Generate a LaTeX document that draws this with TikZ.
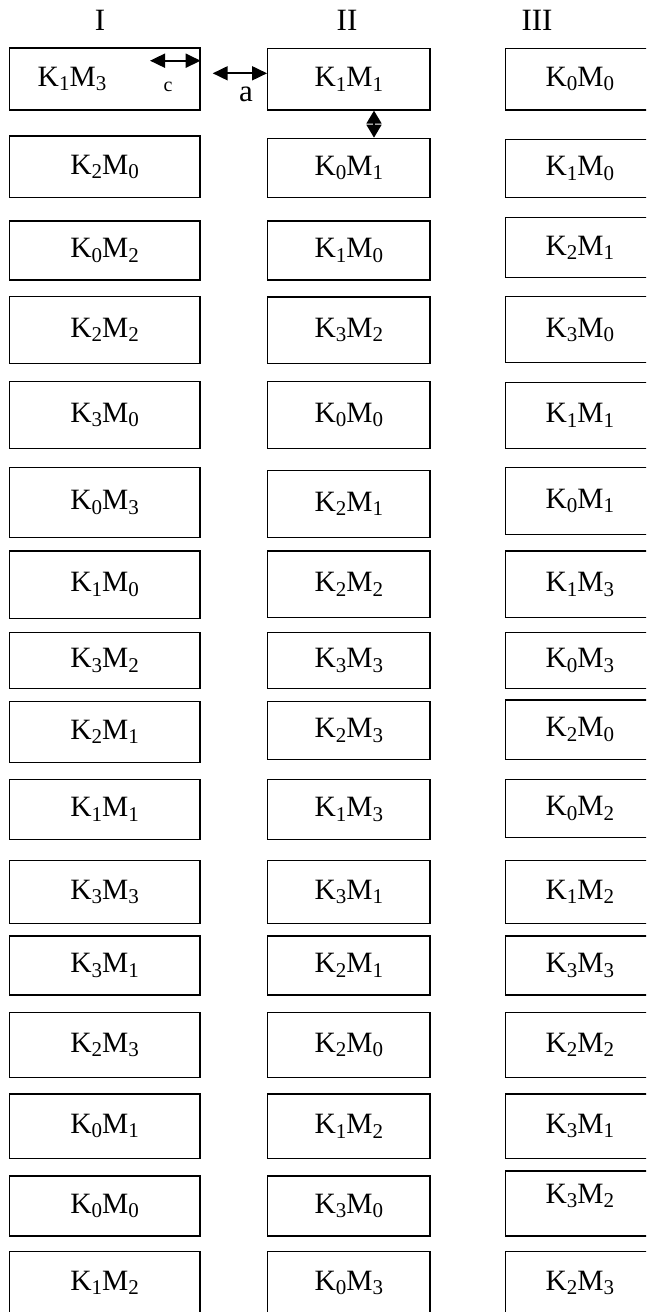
\documentclass[tikz,border=0pt]{standalone}
\usepackage{fontspec}
\setmainfont{Liberation Serif}
\usetikzlibrary{arrows.meta,calc}
\newcommand\sbs[1]{\raisebox{-4.5pt}{\fontsize{21}{21}\selectfont #1}}
\newcommand\KM[2]{K\sbs{#1}M\sbs{#2}}
\newcommand\bx[6]{\node[box, minimum width={#3pt-#2pt}, minimum height={#5pt-#4pt}] (#1) at ({(#2+#3)/2},{(#4+#5)/2}) {#6};}
\begin{document}
\begin{tikzpicture}[x=1pt,y=-1pt,
  box/.style={draw, line width=1.3pt, rectangle, inner sep=0pt, font=\fontsize{29.5}{31}\selectfont},
  txt/.style={inner sep=0pt, font=\fontsize{29.5}{31}\selectfont},
  hdr/.style={inner sep=0pt, anchor=base, font=\fontsize{31}{33}\selectfont},
  dbl/.style={line width=1.8pt, {Triangle[length=15pt,width=14pt]}-{Triangle[length=15pt,width=14pt]}},
  vdbl/.style={line width=1.8pt, {Triangle[length=13pt,width=15pt]}-{Triangle[length=13pt,width=15pt]}}]
\useasboundingbox (0,0) rectangle (646,1312);
\clip (0,0) rectangle (646,1312);
% headers
\node[hdr] (h1) at (100,30.7) {I};
\node[hdr] (h2) at (347,30.7) {II};
\node[hdr] (h3) at (537,30.7) {III};
% column I
\bx{I1}{9.3}{200}{48}{110}{}
\node[txt] (t11) at (72,79) {\KM{1}{3}};
\bx{I2}{9.3}{200}{136}{197.7}{\KM{2}{0}}
\bx{I3}{9.3}{200}{221}{280}{\KM{0}{2}}
\bx{I4}{9.3}{200}{296.7}{363.3}{\KM{2}{2}}
\bx{I5}{9.3}{200}{381.7}{448.3}{\KM{3}{0}}
\bx{I6}{9.3}{200}{467.3}{537.3}{\KM{0}{3}}
\bx{I7}{9.3}{200}{551}{618.3}{\KM{1}{0}}
\bx{I8}{9.3}{200}{632.3}{688.3}{\KM{3}{2}}
\bx{I9}{9.3}{200}{701.3}{762.3}{\KM{2}{1}}
\bx{I10}{9.3}{200}{779.3}{839.3}{\KM{1}{1}}
\bx{I11}{9.3}{200}{860.7}{923.3}{\KM{3}{3}}
\bx{I12}{9.3}{200}{936}{995}{\KM{3}{1}}
\bx{I13}{9.3}{200}{1012.7}{1077.3}{\KM{2}{3}}
\bx{I14}{9.3}{200}{1094}{1158.3}{\KM{0}{1}}
\bx{I15}{9.3}{200}{1176}{1236}{\KM{0}{0}}
\bx{I16}{9.3}{200}{1251.7}{1314}{\KM{1}{2}}
% column II
\bx{II1}{267.7}{430}{48.3}{110}{\KM{1}{1}}
\bx{II2}{267.7}{430}{138.3}{197.7}{\KM{0}{1}}
\bx{II3}{267.7}{430}{221}{280}{\KM{1}{0}}
\bx{II4}{267.7}{430}{297}{363.3}{\KM{3}{2}}
\bx{II5}{267.7}{430}{381.7}{448.3}{\KM{0}{0}}
\bx{II6}{267.7}{430}{470.7}{537.3}{\KM{2}{1}}
\bx{II7}{267.7}{430}{551}{617.7}{\KM{2}{2}}
\bx{II8}{267.7}{430}{632.3}{688.3}{\KM{3}{3}}
\bx{II9}{267.7}{430}{701.3}{759.3}{\KM{2}{3}}
\bx{II10}{267.7}{430}{779.3}{839.3}{\KM{1}{3}}
\bx{II11}{267.7}{430}{860.7}{923.3}{\KM{3}{1}}
\bx{II12}{267.7}{430}{936}{995}{\KM{2}{1}}
\bx{II13}{267.7}{430}{1012.7}{1077.3}{\KM{2}{0}}
\bx{II14}{267.7}{430}{1094}{1158.3}{\KM{1}{2}}
\bx{II15}{267.7}{430}{1176}{1236}{\KM{3}{0}}
\bx{II16}{267.7}{430}{1251.7}{1314}{\KM{0}{3}}
% column III
\bx{III1}{505.7}{654}{48.3}{110}{\KM{0}{0}}
\bx{III2}{505.7}{654}{139.3}{197.7}{\KM{1}{0}}
\bx{III3}{505.7}{654}{217.7}{277.7}{\KM{2}{1}}
\bx{III4}{505.7}{654}{296.7}{362.7}{\KM{3}{0}}
\bx{III5}{505.7}{654}{382.7}{448.3}{\KM{1}{1}}
\bx{III6}{505.7}{654}{467.3}{534.3}{\KM{0}{1}}
\bx{III7}{505.7}{654}{551}{617.7}{\KM{1}{3}}
\bx{III8}{505.7}{654}{632.3}{688.3}{\KM{0}{3}}
\bx{III9}{505.7}{654}{700}{759.3}{\KM{2}{0}}
\bx{III10}{505.7}{654}{779.3}{837.3}{\KM{0}{2}}
\bx{III11}{505.7}{654}{860.7}{923.3}{\KM{1}{2}}
\bx{III12}{505.7}{654}{936}{995}{\KM{3}{3}}
\bx{III13}{505.7}{654}{1012.7}{1077.3}{\KM{2}{2}}
\bx{III14}{505.7}{654}{1094}{1158.3}{\KM{3}{1}}
\node[box, minimum width={654pt-505.7pt}, minimum height={1236pt-1171pt}] (III15) at (579.85,1203.5) {};
\node[txt] (t315) at (579.85,1196) {\KM{3}{2}};
\bx{III16}{505.7}{654}{1251.7}{1314}{\KM{2}{3}}
% arrows and labels
\coordinate (cL) at (150,60.7);
\draw[dbl] (cL) -- (cL -| I1.east);
\node[inner sep=0pt, font=\fontsize{20}{22}\selectfont] (lc) at (168,87) {c};
\coordinate (aL) at (212.7,73.3);
\draw[dbl] (aL) -- (aL -| II1.west);
\node[inner sep=0pt, font=\fontsize{31}{33}\selectfont] (la) at (246,94) {a};
\coordinate (vx) at (374,0);
\draw[vdbl] (vx |- II1.south) -- (vx |- II2.north);
\end{tikzpicture}
\end{document}
